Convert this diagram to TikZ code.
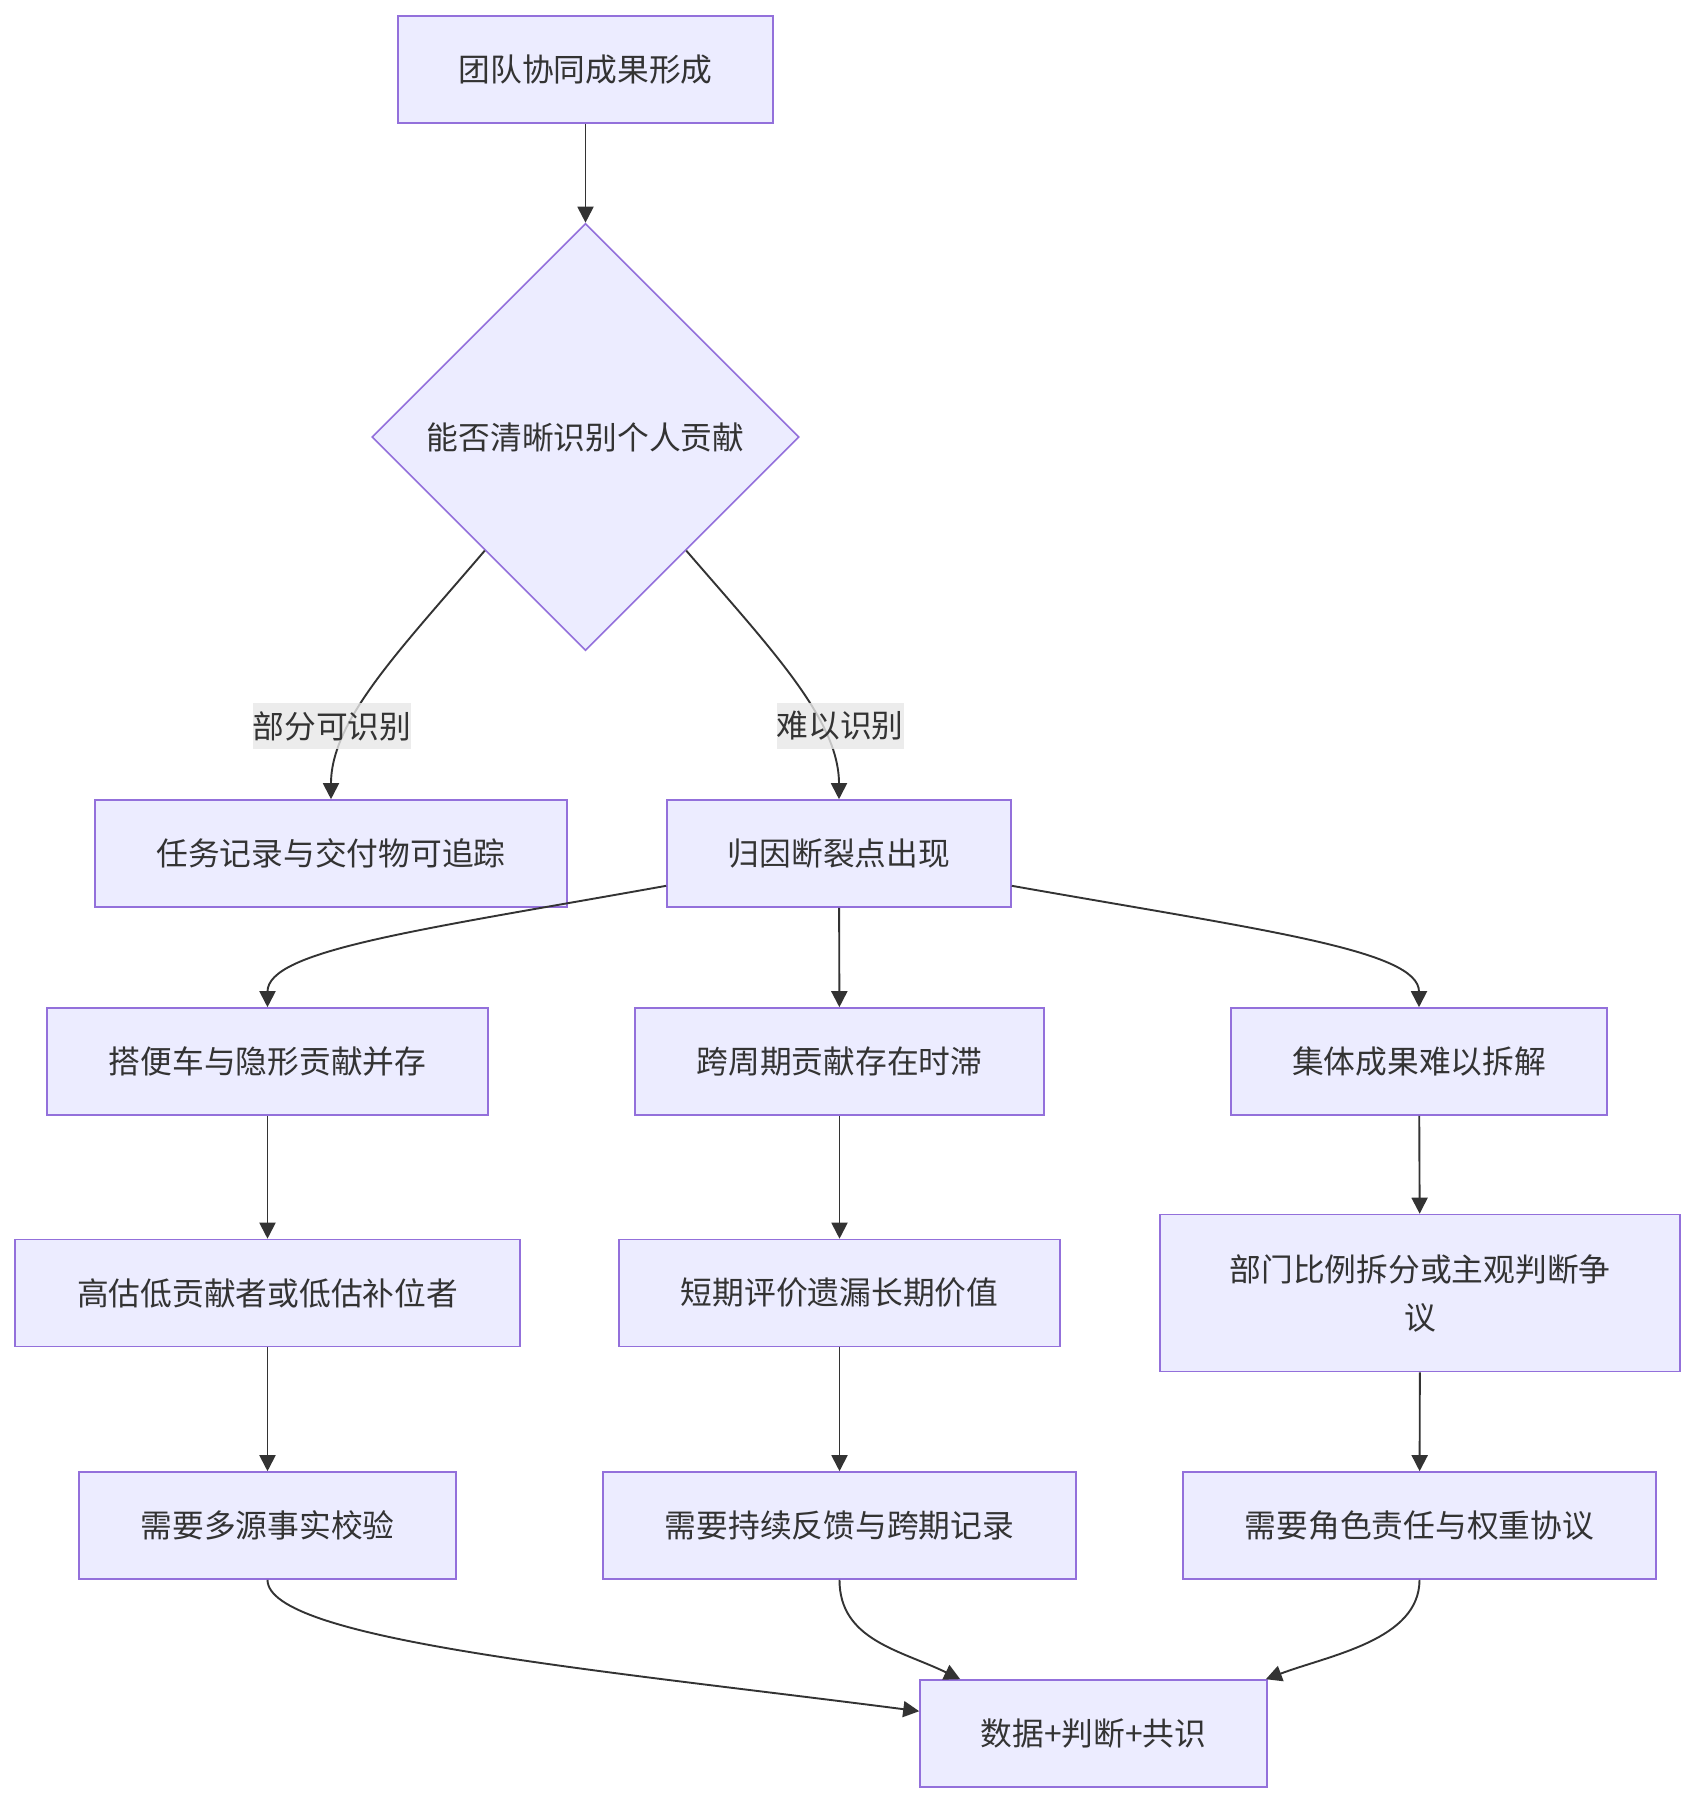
\documentclass[tikz,border=0pt]{standalone}
\usepackage{fontspec}
\newfontfamily\cjk{Noto Sans CJK SC}
\usetikzlibrary{shapes.geometric,arrows.meta,calc}
\definecolor{nodefill}{HTML}{ECECFF}
\definecolor{nodeline}{HTML}{9370DB}
\definecolor{edgecol}{HTML}{333333}
\definecolor{txtcol}{HTML}{333333}
\definecolor{lblbg}{HTML}{E8E8E8}
\begin{document}
\begin{tikzpicture}[x=1pt,y=-1pt,
  box/.style={draw=nodeline, fill=nodefill, line width=1.6pt, text=txtcol,
    font=\cjk\fontsize{31.75}{48}\selectfont, minimum height=107pt,
    inner sep=0pt, align=center},
  decision/.style={box, diamond, minimum width=427pt, minimum height=427pt, aspect=1},
  lbl/.style={fill=lblbg, fill opacity=0.8, text opacity=1, text=txtcol,
    font=\cjk\fontsize{31.75}{40}\selectfont, inner xsep=0pt, inner ysep=8pt},
  edge/.style={draw=edgecol, line width=1.9pt, -{Triangle[length=16pt,width=16pt]}}]
\fill[white] (0,0) rectangle (1696,1804);
\useasboundingbox (0,0) rectangle (1696,1804);

\node[box, minimum width=375pt] (A) at (585.5,69.5) {团队协同成果形成};
\node[decision] (dia) at (585.5,437) {能否清晰识别个人贡献};
\node[box, minimum width=472pt] (B) at (331,853.5) {任务记录与交付物可追踪};
\node[box, minimum width=344pt] (C) at (839,853.5) {归因断裂点出现};
\node[box, minimum width=441pt] (D) at (267.5,1061.5) {搭便车与隐形贡献并存};
\node[box, minimum width=409pt] (E) at (839.5,1061.5) {跨周期贡献存在时滞};
\node[box, minimum width=376pt] (F) at (1419,1061.5) {集体成果难以拆解};
\node[box, minimum width=505pt] (G) at (267.5,1293) {高估低贡献者或低估补位者};
\node[box, minimum width=441pt] (H) at (839.5,1293) {短期评价遗漏长期价值};
\node[box, minimum width=520pt, minimum height=157pt] (I) at (1420,1293) {部门比例拆分或主观判断争\\议};
\node[box, minimum width=377pt] (J) at (267.5,1525.5) {需要多源事实校验};
\node[box, minimum width=473pt] (K) at (839.5,1525.5) {需要持续反馈与跨期记录};
\node[box, minimum width=473pt] (L) at (1419.5,1525.5) {需要角色责任与权重协议};
\node[box, minimum width=347pt] (M) at (1093.5,1733.5) {数据+判断+共识};

\draw[edge] (A) -- (dia);
\draw[edge] ($(dia.west)!0.53!(dia.south)$) .. controls (400,650) and (331,720) .. (B.north);
\draw[edge] ($(dia.east)!0.53!(dia.south)$) .. controls (772,650) and (839,720) .. (C.north);
\draw[edge] ($(C.south west)+(0,-22)$) .. controls (420,930) and (267.5,950) .. (D.north);
\draw[edge] (C) -- (E);
\draw[edge] ($(C.south east)+(0,-22)$) .. controls (1262,930) and (1419,950) .. (F.north);
\draw[edge] (D) -- (G);
\draw[edge] (E) -- (H);
\draw[edge] (F) -- (I);
\draw[edge] (G) -- (J);
\draw[edge] (H) -- (K);
\draw[edge] (I) -- (L);
\draw[edge] (J.south) .. controls (267.5,1640) and (600,1670) .. ($(M.north west)+(0,32)$);
\draw[edge] (K.south) .. controls (839.5,1640) and (900,1650) .. ($(M.north west)+(41,0)$);
\draw[edge] (L.south) .. controls (1419.5,1640) and (1330,1655) .. ($(M.north east)+(-2,0)$);

\node[lbl] (l1) at (332,726) {部分可识别};
\node[lbl] (l2) at (840,726) {难以识别};
\end{tikzpicture}
\end{document}
